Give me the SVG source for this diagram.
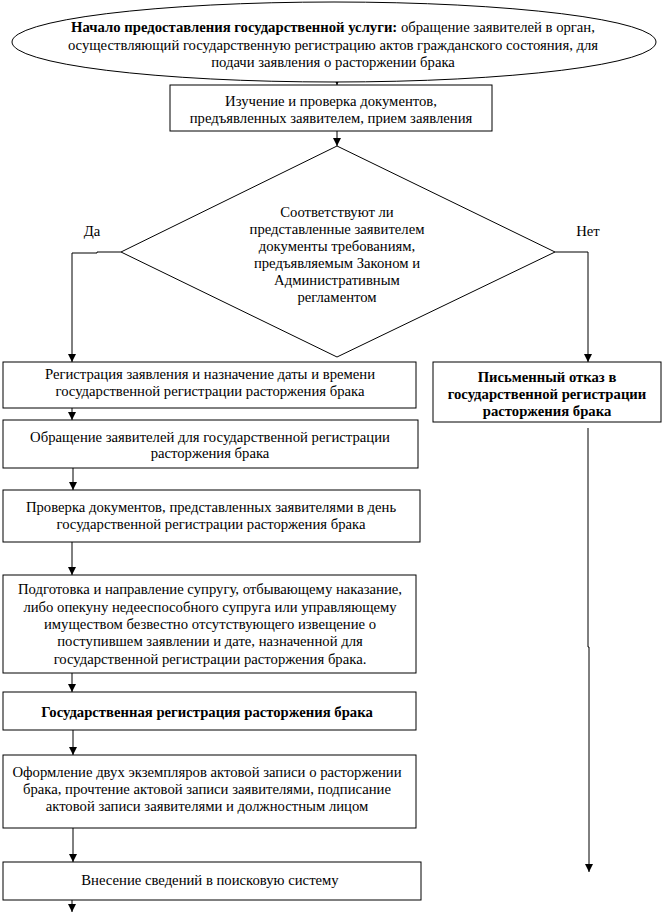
<svg xmlns="http://www.w3.org/2000/svg" width="662" height="914" viewBox="0 0 662 914">
<style>
.s{fill:#fff;stroke:#000;stroke-width:1}
.t{font-family:"Liberation Serif","Times New Roman","DejaVu Serif",serif;font-size:14.7px;fill:#000;text-anchor:middle}
.b{font-weight:bold}
.c{fill:none;stroke:#000;stroke-width:1}
</style>
<defs>
<marker id="ar" markerWidth="8" markerHeight="9" refX="8" refY="4" orient="auto" markerUnits="userSpaceOnUse" viewBox="0 0 8 8">
<path d="M0,0 L8,4 L0,8 Z" fill="#000"/>
</marker>
</defs>
<rect width="662" height="914" fill="#fff"/>
<g id="connectors">
<line class="c" x1="337" y1="83" x2="337" y2="85" marker-end="url(#ar)"/>
<line class="c" x1="337" y1="131" x2="337" y2="146" marker-end="url(#ar)"/>
<polyline class="c" points="121,252 97,252 97,253 72,253 72,362" marker-end="url(#ar)"/>
<polyline class="c" points="555,252 588,252 588,362" marker-end="url(#ar)"/>
<line class="c" x1="72" y1="408" x2="72" y2="420" marker-end="url(#ar)"/>
<line class="c" x1="73" y1="468" x2="73" y2="490" marker-end="url(#ar)"/>
<line class="c" x1="72" y1="542" x2="72" y2="575" marker-end="url(#ar)"/>
<line class="c" x1="72" y1="673" x2="72" y2="692" marker-end="url(#ar)"/>
<line class="c" x1="73" y1="730" x2="73" y2="755" marker-end="url(#ar)"/>
<line class="c" x1="73" y1="828" x2="73" y2="862" marker-end="url(#ar)"/>
<line class="c" x1="72" y1="900" x2="72" y2="912" marker-end="url(#ar)"/>
<polyline class="c" points="588,428 588,647 589,647 589,872" marker-end="url(#ar)"/>
<text class="t" x="92" y="236">Да</text>
<text class="t" x="588" y="236">Нет</text>
</g>
<g id="start">
<ellipse class="s" cx="334" cy="42" rx="322" ry="40"/>
<text class="t" x="333" y="32"><tspan class="b">Начало предоставления государственной услуги:</tspan> обращение заявителей в орган,</text>
<text class="t" x="333" y="50">осуществляющий государственную регистрацию актов гражданского состояния, для</text>
<text class="t" x="333" y="67">подачи заявления о расторжении брака</text>
</g>
<g id="study">
<rect class="s" x="170" y="85" width="322" height="46"/>
<text class="t" x="331" y="106">Изучение и проверка документов,</text>
<text class="t" x="331" y="123">предъявленных заявителем, прием заявления</text>
</g>
<g id="decision">
<polygon class="s" points="337,146 555,252 337,357 121,252"/>
<text class="t" x="337" y="217">Соответствуют ли</text>
<text class="t" x="337" y="234">представленные заявителем</text>
<text class="t" x="337" y="251">документы требованиям,</text>
<text class="t" x="337" y="268">предъявляемым Законом и</text>
<text class="t" x="337" y="285">Административным</text>
<text class="t" x="337" y="302">регламентом</text>
</g>
<g id="register">
<rect class="s" x="3" y="362" width="413" height="46"/>
<text class="t" x="210" y="379">Регистрация заявления и назначение даты и времени</text>
<text class="t" x="210" y="396">государственной регистрации расторжения брака</text>
</g>
<g id="refusal">
<rect class="s" x="433" y="362" width="228" height="60"/>
<text class="t b" x="547" y="382">Письменный отказ в</text>
<text class="t b" x="547" y="399">государственной регистрации</text>
<text class="t b" x="547" y="416">расторжения брака</text>
</g>
<g id="appeal">
<rect class="s" x="3" y="420" width="415" height="48"/>
<text class="t" x="210" y="442">Обращение заявителей для государственной регистрации</text>
<text class="t" x="210" y="458">расторжения брака</text>
</g>
<g id="check">
<rect class="s" x="3" y="490" width="417" height="52"/>
<text class="t" x="211" y="512">Проверка документов, представленных заявителями в день</text>
<text class="t" x="211" y="529">государственной регистрации расторжения брака</text>
</g>
<g id="notice">
<rect class="s" x="3" y="575" width="413" height="98"/>
<text class="t" x="210" y="594">Подготовка и направление супругу, отбывающему наказание,</text>
<text class="t" x="210" y="612">либо опекуну недееспособного супруга или управляющему</text>
<text class="t" x="210" y="629">имуществом безвестно отсутствующего извещение о</text>
<text class="t" x="210" y="646">поступившем заявлении и дате, назначенной для</text>
<text class="t" x="210" y="664">государственной регистрации расторжения брака.</text>
</g>
<g id="stateReg">
<rect class="s" x="3" y="692" width="413" height="38"/>
<text class="t b" x="207" y="717">Государственная регистрация расторжения брака</text>
</g>
<g id="record">
<rect class="s" x="3" y="755" width="413" height="73"/>
<text class="t" x="207" y="777">Оформление двух экземпляров актовой записи о расторжении</text>
<text class="t" x="207" y="794">брака, прочтение актовой записи заявителями, подписание</text>
<text class="t" x="207" y="811">актовой записи заявителями и должностным лицом</text>
</g>
<g id="search">
<rect class="s" x="3" y="862" width="418" height="38"/>
<text class="t" x="210" y="885">Внесение сведений в поисковую систему</text>
</g>
</svg>
